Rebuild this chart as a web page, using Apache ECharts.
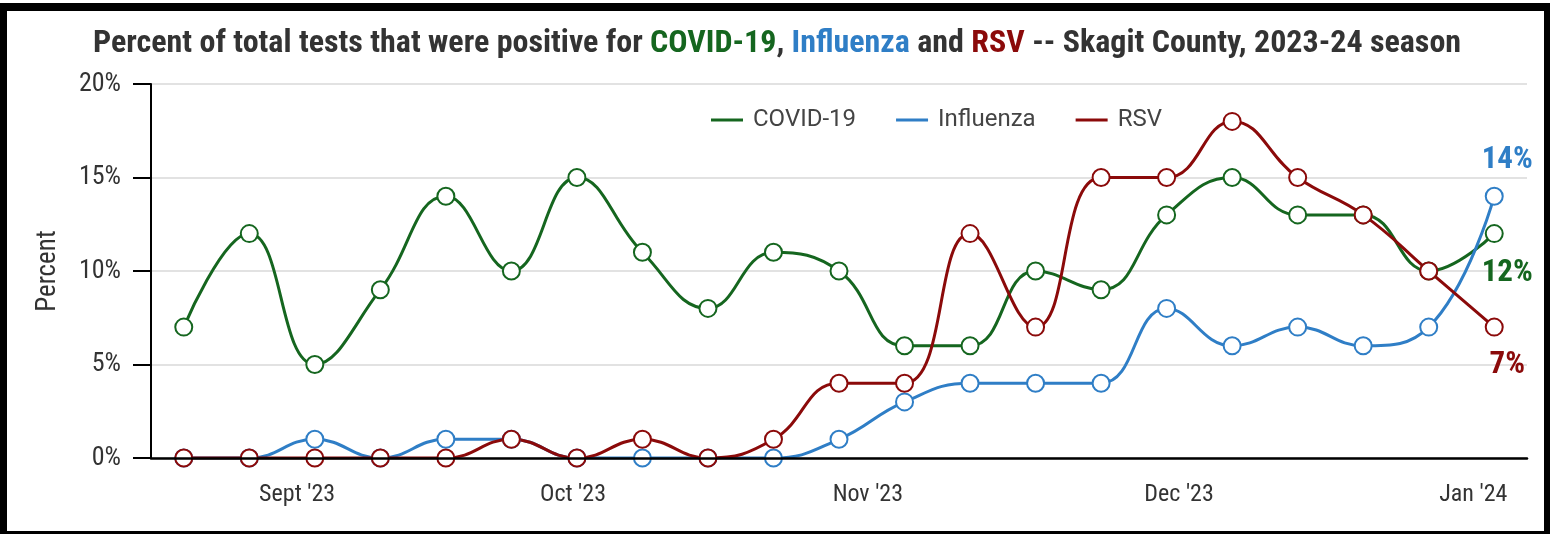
<!DOCTYPE html>
<html>
<head>
<meta charset="utf-8">
<title>Percent positive - Skagit County</title>
<script src="https://cdn.jsdelivr.net/npm/echarts@6/dist/echarts.min.js"></script>
<style>
  html, body { margin: 0; padding: 0; background: #fff; }
  #frame {
    position: absolute; left: 0; top: 3px; width: 1550px; height: 531px;
    box-sizing: border-box; border-style: solid; border-color: #000;
    border-width: 8px 6px 3px 7px;
  }
  #main { position: absolute; left: 0; top: 0; width: 1554px; height: 534px; }
</style>
</head>
<body>
<div id="frame"></div>
<div id="main"></div>
<script>
// weekly points, Aug 2023 - Jan 2024
const weeks = ['Aug 19', 'Aug 26', 'Sep 2', 'Sep 9', 'Sep 16', 'Sep 23', 'Sep 30',
  'Oct 7', 'Oct 14', 'Oct 21', 'Oct 28', 'Nov 4', 'Nov 11', 'Nov 18', 'Nov 25',
  'Dec 2', 'Dec 9', 'Dec 16', 'Dec 23', 'Dec 30', 'Jan 6'];
const covid = [7, 12, 5, 9, 14, 10, 15, 11, 8, 11, 10, 6, 6, 10, 9, 13, 15, 13, 13, 10, 12];
const influenza = [0, 0, 1, 0, 1, 1, 0, 0, 0, 0, 1, 3, 4, 4, 4, 8, 6, 7, 6, 7, 14];
const rsv = [0, 0, 0, 0, 0, 1, 0, 1, 0, 1, 4, 4, 12, 7, 15, 15, 18, 15, 13, 10, 7];

// month labels and where they sit, in week units
const monthLabels = ["Sept '23", "Oct '23", "Nov '23", "Dec '23", "Jan '24"];
const monthAt = [1.73, 5.94, 10.44, 15.19, 19.68];

const yTicks = [0, 5, 10, 15, 20];

const FONT = "'Roboto Condensed', 'Liberation Sans Narrow', 'DejaVu Sans Condensed', sans-serif";
const GREEN = '#15661f';
const BLUE = '#2f7ec6';
const RED = '#8b0a0a';

function lineSeries(name, values, color, labelOffset) {
  let data = values.map((v, i) => {
    if (i !== values.length - 1) return v;
    return {
      value: v,
      label: {
        show: true,
        position: labelOffset < 0 ? 'top' : 'bottom',
        distance: 0,
        offset: [13, labelOffset],
        formatter: '{c}%',
        color: color,
        fontFamily: FONT,
        fontWeight: 'bold',
        fontSize: 31
      }
    };
  });
  return {
    name: name,
    type: 'line',
    data: data,
    smooth: 0.45,
    symbol: 'emptyCircle',
    symbolSize: 17,
    showAllSymbol: true,
    color: color,
    lineStyle: { width: 3, color: color },
    itemStyle: { color: color, borderWidth: 3 },
    emphasis: { disabled: true },
    z: 2
  };
}

function loadChart() {
  let chartDom = document.getElementById('main');
  let myChart = echarts.init(chartDom);

  let option = {
    animation: false,
    title: {
      left: 'center',
      top: 23,
      text: '{a|Percent of total tests that were positive for }{g|COVID-19}{a|, }{b|Influenza}{a| and }{r|RSV}{a| -- Skagit County, 2023-24 season}',
      textStyle: {
        rich: {
          a: { color: '#333', fontFamily: FONT, fontWeight: 'bold', fontSize: 32 },
          g: { color: GREEN, fontFamily: FONT, fontWeight: 'bold', fontSize: 32 },
          b: { color: BLUE, fontFamily: FONT, fontWeight: 'bold', fontSize: 32 },
          r: { color: RED, fontFamily: FONT, fontWeight: 'bold', fontSize: 32 }
        }
      }
    },
    legend: {
      top: 103,
      left: 706,
      icon: 'rect',
      itemWidth: 32,
      itemHeight: 3,
      itemGap: 40,
      textStyle: { color: '#444', fontFamily: "Roboto, sans-serif", fontSize: 24, padding: [0, 0, 0, 5] },
      data: [
        { name: 'COVID-19', itemStyle: { color: GREEN, borderWidth: 0 } },
        { name: 'Influenza', itemStyle: { color: BLUE, borderWidth: 0 } },
        { name: 'RSV', itemStyle: { color: RED, borderWidth: 0 } }
      ]
    },
    grid: { left: 151, right: 27, top: 84, bottom: 76, containLabel: false },
    xAxis: [
      {
        type: 'category',
        data: weeks,
        boundaryGap: true,
        axisLine: { lineStyle: { color: '#000', width: 2.5 } },
        axisTick: { show: false },
        axisLabel: { show: false },
        z: 5
      },
      {
        type: 'value',
        min: -0.5,
        max: weeks.length - 0.5,
        position: 'bottom',
        axisLine: { show: false },
        axisTick: { show: false },
        splitLine: { show: false },
        axisLabel: {
          customValues: monthAt,
          formatter: (v) => monthLabels[monthAt.indexOf(v)],
          color: '#333',
          fontFamily: FONT,
          fontSize: 24,
          margin: 25
        }
      }
    ],
    yAxis: {
      type: 'value',
      min: yTicks[0],
      max: yTicks[yTicks.length - 1],
      interval: 5,
      name: 'Percent',
      nameLocation: 'middle',
      nameGap: 89,
      nameTextStyle: { color: '#333', fontFamily: FONT, fontSize: 27 },
      axisLine: { show: true, onZero: false, lineStyle: { color: '#000', width: 2 } },
      axisTick: { show: true, length: 18, lineStyle: { color: '#000', width: 2 } },
      axisLabel: {
        formatter: '{value}%',
        color: '#333',
        fontFamily: FONT,
        fontSize: 26,
        margin: 30
      },
      splitLine: { lineStyle: { color: '#e2e2e2', width: 2 } }
    },
    series: [
      lineSeries('COVID-19', covid, GREEN, 15),
      lineSeries('Influenza', influenza, BLUE, -11),
      lineSeries('RSV', rsv, RED, 13)
    ]
  };

  myChart.setOption(option);
}

document.addEventListener('DOMContentLoaded', () => {
  loadChart();
});
</script>
</body>
</html>
